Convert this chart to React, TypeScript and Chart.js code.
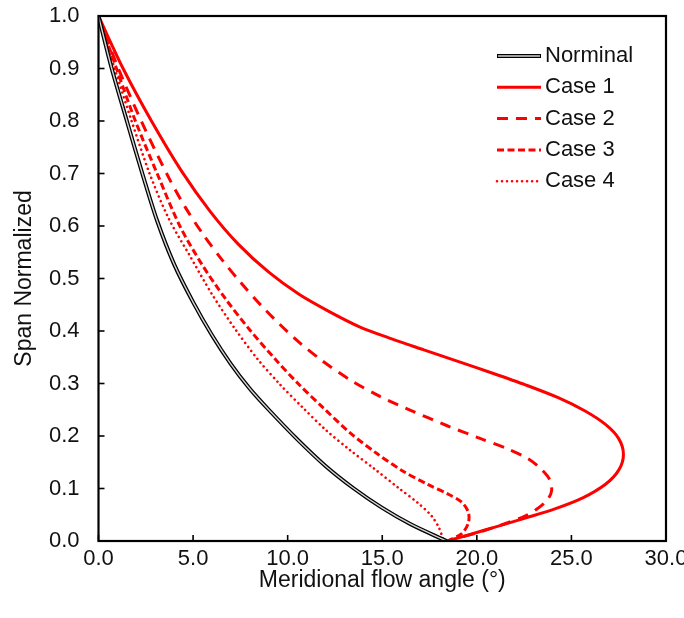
import React, { useEffect, useRef } from 'react';
import { Chart, registerables } from 'chart.js';
Chart.register(...registerables);

// ---- data ----
const nominalX = [0, 0.7, 1.5, 2.3, 3.1, 4.0, 5.0, 6.0, 7.0, 8.0, 9.0, 10.5, 12.0, 13.5, 15.0, 16.5, 18.4];
const nominalY = [1.0, 0.9, 0.8, 0.702, 0.61, 0.527, 0.455, 0.392, 0.337, 0.29, 0.25, 0.194, 0.143, 0.1, 0.063, 0.032, 0];

const case1X = [0, 1.3, 2.8, 4.4, 5.9, 7.4, 9.0, 10.6, 12.2, 13.8, 15.5, 17.2, 19.0, 20.8, 22.6, 24.3, 25.7, 26.8, 27.5, 27.75, 27.5, 26.8, 25.6, 24.2, 22.6, 21.0, 19.6, 18.45];
const case1Y = [1.0, 0.9, 0.8, 0.704, 0.628, 0.565, 0.512, 0.47, 0.437, 0.408, 0.385, 0.364, 0.342, 0.32, 0.297, 0.273, 0.248, 0.222, 0.195, 0.165, 0.135, 0.108, 0.082, 0.062, 0.044, 0.027, 0.012, 0];

const case2X = [0, 1.05, 2.35, 3.7, 4.6, 5.55, 6.5, 7.5, 8.8, 10.4, 11.8, 13.3, 14.9, 16.5, 18.4, 20.2, 21.6, 22.7, 23.4, 23.85, 23.95, 23.7, 23.1, 22.4, 20.4, 18.45];
const case2Y = [1.0, 0.9, 0.793, 0.693, 0.635, 0.583, 0.537, 0.493, 0.441, 0.385, 0.344, 0.307, 0.275, 0.249, 0.22, 0.195, 0.176, 0.157, 0.137, 0.117, 0.095, 0.077, 0.059, 0.045, 0.02, 0];

const case3X = [0, 0.95, 1.95, 3.1, 4.3, 5.5, 6.7, 8.0, 9.3, 10.6, 11.9, 13.3, 14.7, 16.1, 17.4, 18.5, 19.2, 19.55, 19.55, 19.2, 18.45];
const case3Y = [1.0, 0.9, 0.8, 0.7, 0.6, 0.525, 0.462, 0.402, 0.348, 0.298, 0.253, 0.206, 0.167, 0.133, 0.108, 0.089, 0.074, 0.055, 0.034, 0.014, 0];

const case4X = [0, 0.85, 1.75, 2.7, 3.7, 4.8, 6.0, 7.2, 8.4, 9.6, 10.8, 12.0, 13.3, 14.6, 15.9, 16.9, 17.6, 18.0, 18.25];
const case4Y = [1.0, 0.9, 0.8, 0.7, 0.615, 0.545, 0.47, 0.405, 0.347, 0.298, 0.254, 0.212, 0.173, 0.137, 0.1, 0.072, 0.048, 0.025, 0];

const legendLabels = ['Norminal', 'Case 1', 'Case 2', 'Case 3', 'Case 4'];
const xTitle = 'Meridional flow angle (°)';
const yTitle = 'Span Normalized';
const xMin = 0, xMax = 30, xStep = 5;
const yMin = 0, yMax = 1, yStep = 0.1;

const FONT = "'Liberation Sans', Arial, sans-serif";
const RED = '#ff0000';
const INNER = '#d4d4d4';

const pts = (xs: number[], ys: number[]) => xs.map((x, i) => ({ x, y: ys[i] }));

type Sty = { color: string; width: number; dash: number[]; cap: CanvasLineCap; inner?: boolean };
const styles: Sty[] = [
  { color: '#000000', width: 4, dash: [], cap: 'butt', inner: true },
  { color: RED, width: 3, dash: [], cap: 'butt' },
  { color: RED, width: 3, dash: [11, 8], cap: 'butt' },
  { color: RED, width: 3, dash: [7, 3.5], cap: 'butt' },
  { color: RED, width: 2.6, dash: [0.01, 5], cap: 'round' },
];

export default function App() {
  const ref = useRef<HTMLCanvasElement>(null);
  useEffect(() => {
    document.body.style.margin = '0';
    const canvas = ref.current!;
    const series = [
      pts(nominalX, nominalY),
      pts(case1X, case1Y),
      pts(case2X, case2Y),
      pts(case3X, case3Y),
      pts(case4X, case4Y),
    ];
    const mk = (data: any, s: Sty) => ({
      data,
      borderColor: s.color,
      borderWidth: s.width,
      borderDash: s.dash,
      borderCapStyle: s.cap,
      pointRadius: 0,
      fill: false,
      tension: 0.3,
    });
    const datasets: any[] = [
      mk(series[0], { color: INNER, width: 1.4, dash: [], cap: 'butt' }),
      mk(series[0], styles[0]),
      mk(series[1], styles[1]),
      mk(series[2], styles[2]),
      mk(series[3], styles[3]),
      mk(series[4], styles[4]),
    ];

    const framePlugin = {
      id: 'frameTicks',
      afterDraw(chart: any) {
        const { ctx, chartArea: ca, scales } = chart;
        ctx.save();
        ctx.strokeStyle = '#000';
        ctx.lineWidth = 1.6;
        ctx.setLineDash([]);
        const tl = 6;
        scales.x.ticks.forEach((t: any) => {
          const px = scales.x.getPixelForValue(t.value);
          ctx.beginPath();
          ctx.moveTo(px, ca.bottom);
          ctx.lineTo(px, ca.bottom - tl);
          ctx.stroke();
        });
        scales.y.ticks.forEach((t: any) => {
          const py = scales.y.getPixelForValue(t.value);
          ctx.beginPath();
          ctx.moveTo(ca.left, py);
          ctx.lineTo(ca.left + tl, py);
          ctx.stroke();
        });
        ctx.lineWidth = 2.2;
        ctx.strokeRect(ca.left, ca.top, ca.right - ca.left, ca.bottom - ca.top);

        // legend
        const sx0 = ca.right - 169;
        const sx1 = ca.right - 125;
        const tx = ca.right - 121;
        ctx.font = `22px ${FONT}`;
        ctx.textBaseline = 'middle';
        ctx.textAlign = 'left';
        legendLabels.forEach((lab, i) => {
          const y = ca.top + 40 + i * 31.3;
          const s = styles[i];
          ctx.beginPath();
          ctx.setLineDash(s.dash);
          ctx.lineCap = s.cap;
          ctx.strokeStyle = s.color;
          ctx.lineWidth = s.width;
          ctx.moveTo(sx0, y);
          ctx.lineTo(sx1, y);
          ctx.stroke();
          if (s.inner) {
            ctx.beginPath();
            ctx.strokeStyle = INNER;
            ctx.lineWidth = 1.4;
            ctx.moveTo(sx0 + 1, y);
            ctx.lineTo(sx1 - 1, y);
            ctx.stroke();
          }
          ctx.setLineDash([]);
          ctx.fillStyle = '#111';
          ctx.fillText(lab, tx, y);
        });
        ctx.restore();
      },
    };

    const chart = new Chart(canvas, {
      type: 'line',
      data: { datasets },
      options: {
        animation: false,
        responsive: false,
        maintainAspectRatio: false,
        layout: { padding: { top: 16, right: 18, left: 0, bottom: 0 } },
        plugins: { legend: { display: false }, tooltip: { enabled: false } },
        elements: { line: { borderJoinStyle: 'round' } },
        scales: {
          x: {
            type: 'linear',
            min: xMin,
            max: xMax,
            grid: { display: false, drawTicks: false },
            border: { display: false },
            ticks: {
              stepSize: xStep,
              padding: 5,
              color: '#111',
              font: { family: FONT, size: 22 },
              callback: (v: any) => Number(v).toFixed(1),
              maxRotation: 0,
              autoSkip: false,
            },
            title: {
              display: true,
              text: xTitle,
              color: '#111',
              font: { family: FONT, size: 23 },
              padding: { top: 0, bottom: 24 },
            },
            afterFit: (s: any) => {
              s.height = 77;
              s.paddingLeft = 0;
              s.paddingRight = 0;
            },
          },
          y: {
            type: 'linear',
            min: yMin,
            max: yMax,
            grid: { display: false, drawTicks: false },
            border: { display: false },
            ticks: {
              stepSize: yStep,
              padding: 19,
              color: '#111',
              font: { family: FONT, size: 22 },
              callback: (v: any) => Number(v).toFixed(1),
              autoSkip: false,
            },
            title: {
              display: true,
              text: yTitle,
              color: '#111',
              font: { family: FONT, size: 23 },
              padding: { top: 11, bottom: 0 },
            },
            afterFit: (s: any) => {
              s.width = 98.5;
              s.paddingTop = 0;
              s.paddingBottom = 0;
            },
          },
        },
      } as any,
      plugins: [framePlugin],
    });
    return () => chart.destroy();
  }, []);
  return (
    <div style={{ width: 684, height: 618 }}>
      <canvas ref={ref} width={684} height={618} style={{ display: 'block' }} />
    </div>
  );
}
